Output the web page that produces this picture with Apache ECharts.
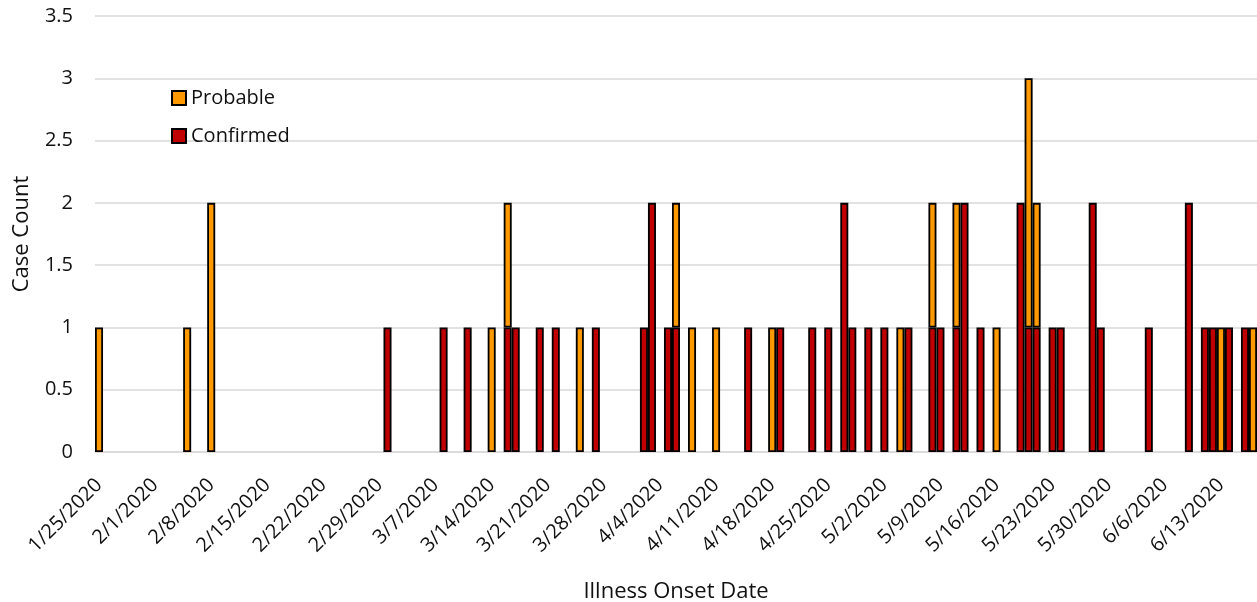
<!DOCTYPE html>
<html>
<head>
<meta charset="utf-8">
<script src="https://cdn.jsdelivr.net/npm/echarts@6/dist/echarts.min.js"></script>
<style>html,body{margin:0;padding:0;background:#fff}#c{width:1257px;height:602px}</style>
</head>
<body>
<div id="c"></div>
<script>
const dates = [
"1/25/2020","1/26/2020","1/27/2020","1/28/2020","1/29/2020","1/30/2020","1/31/2020",
"2/1/2020","2/2/2020","2/3/2020","2/4/2020","2/5/2020","2/6/2020","2/7/2020","2/8/2020","2/9/2020","2/10/2020",
"2/11/2020","2/12/2020","2/13/2020","2/14/2020","2/15/2020","2/16/2020","2/17/2020","2/18/2020","2/19/2020","2/20/2020",
"2/21/2020","2/22/2020","2/23/2020","2/24/2020","2/25/2020","2/26/2020","2/27/2020","2/28/2020","2/29/2020",
"3/1/2020","3/2/2020","3/3/2020","3/4/2020","3/5/2020","3/6/2020","3/7/2020","3/8/2020","3/9/2020","3/10/2020",
"3/11/2020","3/12/2020","3/13/2020","3/14/2020","3/15/2020","3/16/2020","3/17/2020","3/18/2020","3/19/2020","3/20/2020",
"3/21/2020","3/22/2020","3/23/2020","3/24/2020","3/25/2020","3/26/2020","3/27/2020","3/28/2020","3/29/2020","3/30/2020","3/31/2020",
"4/1/2020","4/2/2020","4/3/2020","4/4/2020","4/5/2020","4/6/2020","4/7/2020","4/8/2020","4/9/2020","4/10/2020",
"4/11/2020","4/12/2020","4/13/2020","4/14/2020","4/15/2020","4/16/2020","4/17/2020","4/18/2020","4/19/2020","4/20/2020",
"4/21/2020","4/22/2020","4/23/2020","4/24/2020","4/25/2020","4/26/2020","4/27/2020","4/28/2020","4/29/2020","4/30/2020",
"5/1/2020","5/2/2020","5/3/2020","5/4/2020","5/5/2020","5/6/2020","5/7/2020","5/8/2020","5/9/2020","5/10/2020",
"5/11/2020","5/12/2020","5/13/2020","5/14/2020","5/15/2020","5/16/2020","5/17/2020","5/18/2020","5/19/2020","5/20/2020",
"5/21/2020","5/22/2020","5/23/2020","5/24/2020","5/25/2020","5/26/2020","5/27/2020","5/28/2020","5/29/2020","5/30/2020","5/31/2020",
"6/1/2020","6/2/2020","6/3/2020","6/4/2020","6/5/2020","6/6/2020","6/7/2020","6/8/2020","6/9/2020","6/10/2020",
"6/11/2020","6/12/2020","6/13/2020","6/14/2020","6/15/2020","6/16/2020","6/17/2020"
];
const confirmed = [
0,0,0,0,0,0,0,0,0,0,
0,0,0,0,0,0,0,0,0,0,
0,0,0,0,0,0,0,0,0,0,
0,0,0,0,0,0,1,0,0,0,
0,0,0,1,0,0,1,0,0,0,
0,1,1,0,0,1,0,1,0,0,
0,0,1,0,0,0,0,0,1,2,
0,1,1,0,0,0,0,0,0,0,
0,1,0,0,0,1,0,0,0,1,
0,1,0,2,1,0,1,0,1,0,
0,1,0,0,1,1,0,1,2,0,
1,0,0,0,0,2,1,1,0,1,
1,0,0,0,2,1,0,0,0,0,
0,1,0,0,0,0,2,0,1,1,
0,1,0,1,0
];
const probable = [
1,0,0,0,0,0,0,0,0,0,
0,1,0,0,2,0,0,0,0,0,
0,0,0,0,0,0,0,0,0,0,
0,0,0,0,0,0,0,0,0,0,
0,0,0,0,0,0,0,0,0,1,
0,1,0,0,0,0,0,0,0,0,
1,0,0,0,0,0,0,0,0,0,
0,0,1,0,1,0,0,1,0,0,
0,0,0,0,1,0,0,0,0,0,
0,0,0,0,0,0,0,0,0,0,
1,0,0,0,1,0,0,1,0,0,
0,0,1,0,0,0,2,1,0,0,
0,0,0,0,0,0,0,0,0,0,
0,0,0,0,0,0,0,0,0,0,
1,0,0,0,1
];
const seriesNames = ["Probable", "Confirmed"];
const colors = { Probable: "#FF9900", Confirmed: "#C00000" };

const FONT = "'Open Sans', sans-serif";
const nz = a => a.map(v => v === 0 ? null : v);
const chart = echarts.init(document.getElementById('c'), null, { renderer: 'canvas' });
chart.setOption({
  animation: false,
  textStyle: { fontFamily: FONT },
  grid: { left: 95, right: 0, top: 16, bottom: 150, containLabel: false, outerBoundsMode: 'none' },
  legend: {
    data: seriesNames,
    orient: 'vertical',
    left: 166, top: 83,
    itemWidth: 14, itemHeight: 14, itemGap: 18,
    textStyle: { fontSize: 20, color: '#111', fontFamily: FONT },
    icon: 'rect'
  },
  xAxis: {
    type: 'category',
    data: dates,
    boundaryGap: true,
    name: 'Illness Onset Date',
    nameLocation: 'middle',
    nameGap: 129,
    nameTextStyle: { fontSize: 22, color: '#111', fontFamily: FONT },
    axisLine: { show: true, lineStyle: { color: '#d9d9d9', width: 1.5 } },
    axisTick: { show: false },
    axisLabel: { interval: 6, rotate: 45, fontSize: 20, color: '#111', margin: 30, fontFamily: FONT }
  },
  yAxis: {
    type: 'value',
    min: 0, max: 3.5, interval: 0.5,
    name: 'Case Count',
    nameLocation: 'middle',
    nameGap: 62,
    nameTextStyle: { fontSize: 22, color: '#111', fontFamily: FONT },
    axisLine: { show: false },
    axisTick: { show: false },
    axisLabel: { fontSize: 20, color: '#111', margin: 22, fontFamily: FONT },
    splitLine: { lineStyle: { color: '#d9d9d9', width: 1.5 } }
  },
  series: [
    {
      name: 'Confirmed', type: 'bar', stack: 'cases',
      data: nz(confirmed), barCategoryGap: '0%', barGap: '0%',
      itemStyle: { color: colors.Confirmed, borderColor: '#000', borderWidth: 1.8 }
    },
    {
      name: 'Probable', type: 'bar', stack: 'cases',
      data: nz(probable), barCategoryGap: '0%', barGap: '0%',
      itemStyle: { color: colors.Probable, borderColor: '#000', borderWidth: 1.8 }
    }
  ]
});
</script>
</body>
</html>
